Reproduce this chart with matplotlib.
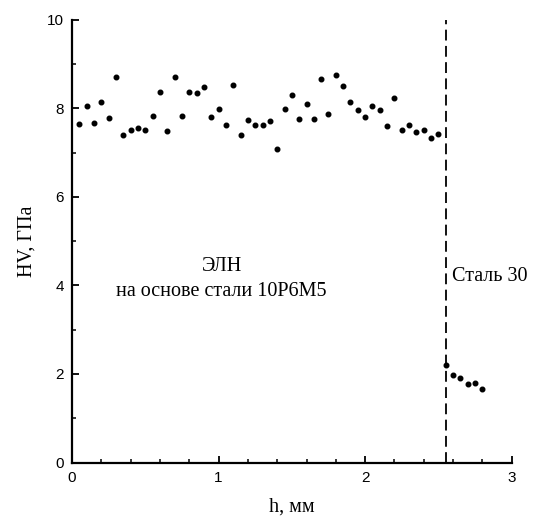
import numpy as np
import matplotlib.pyplot as plt
from matplotlib.ticker import MultipleLocator

# ЭЛН (coating) points
h_eln = [0.05, 0.10, 0.15, 0.20, 0.25, 0.30, 0.35, 0.40, 0.45, 0.50,
         0.55, 0.60, 0.65, 0.70, 0.75, 0.80, 0.85, 0.90, 0.95, 1.00,
         1.05, 1.10, 1.15, 1.20, 1.25, 1.30, 1.35, 1.40, 1.45, 1.50,
         1.55, 1.60, 1.65, 1.70, 1.75, 1.80, 1.85, 1.90, 1.95, 2.00,
         2.05, 2.10, 2.15, 2.20, 2.25, 2.30, 2.35, 2.40, 2.45, 2.50]
hv_eln = [7.65, 8.04, 7.67, 8.14, 7.77, 8.71, 7.39, 7.50, 7.56, 7.50,
          7.83, 8.37, 7.48, 8.71, 7.83, 8.37, 8.34, 8.49, 7.80, 7.99,
          7.63, 8.53, 7.39, 7.74, 7.63, 7.63, 7.71, 7.09, 7.99, 8.29,
          7.75, 8.10, 7.75, 8.65, 7.86, 8.75, 8.50, 8.14, 7.95, 7.80,
          8.05, 7.97, 7.60, 8.23, 7.52, 7.63, 7.46, 7.52, 7.32, 7.41]

# Сталь 30 (substrate) points
h_steel = [2.55, 2.60, 2.65, 2.70, 2.75, 2.80]
hv_steel = [2.21, 1.98, 1.90, 1.77, 1.79, 1.66]

boundary = 2.55

fig = plt.figure(figsize=(5.38, 5.18), dpi=100)
ax = fig.add_axes([0.134, 0.107, 0.817, 0.855])

ax.plot(h_eln, hv_eln, 'o', color='black', ms=3.3)
ax.plot(h_steel, hv_steel, 'o', color='black', ms=3.3)
ax.axvline(boundary, color='black', lw=1.3, ls=(0, (6, 3)))

ax.set_xlim(0, 3)
ax.set_ylim(0, 10)
ax.xaxis.set_major_locator(MultipleLocator(1))
ax.xaxis.set_minor_locator(MultipleLocator(0.2))
ax.yaxis.set_major_locator(MultipleLocator(2))
ax.yaxis.set_minor_locator(MultipleLocator(1))

ax.spines['top'].set_visible(False)
ax.spines['right'].set_visible(False)
ax.spines['left'].set_linewidth(1.6)
ax.spines['bottom'].set_linewidth(1.6)
ax.tick_params(which='major', direction='in', length=5, width=1.3, labelsize=11, pad=6)
ax.tick_params(which='minor', direction='in', length=3, width=1.1)
for lab in ax.get_xticklabels() + ax.get_yticklabels():
    lab.set_family('Liberation Sans')

serif = 'Liberation Serif'
fs = 14.5
ax.set_xlabel('h, мм', family=serif, fontsize=fs, labelpad=9)
ax.set_ylabel('HV, ГПа', family=serif, fontsize=fs, labelpad=7)

ax.text(1.02, 4.42, 'ЭЛН', family=serif, fontsize=fs, ha='center', va='center')
ax.text(1.02, 3.87, 'на основе стали 10Р6М5', family=serif, fontsize=fs, ha='center', va='center')
ax.text(2.59, 4.21, 'Сталь 30', family=serif, fontsize=fs, ha='left', va='center')

fig.savefig('out.png', dpi=100)
